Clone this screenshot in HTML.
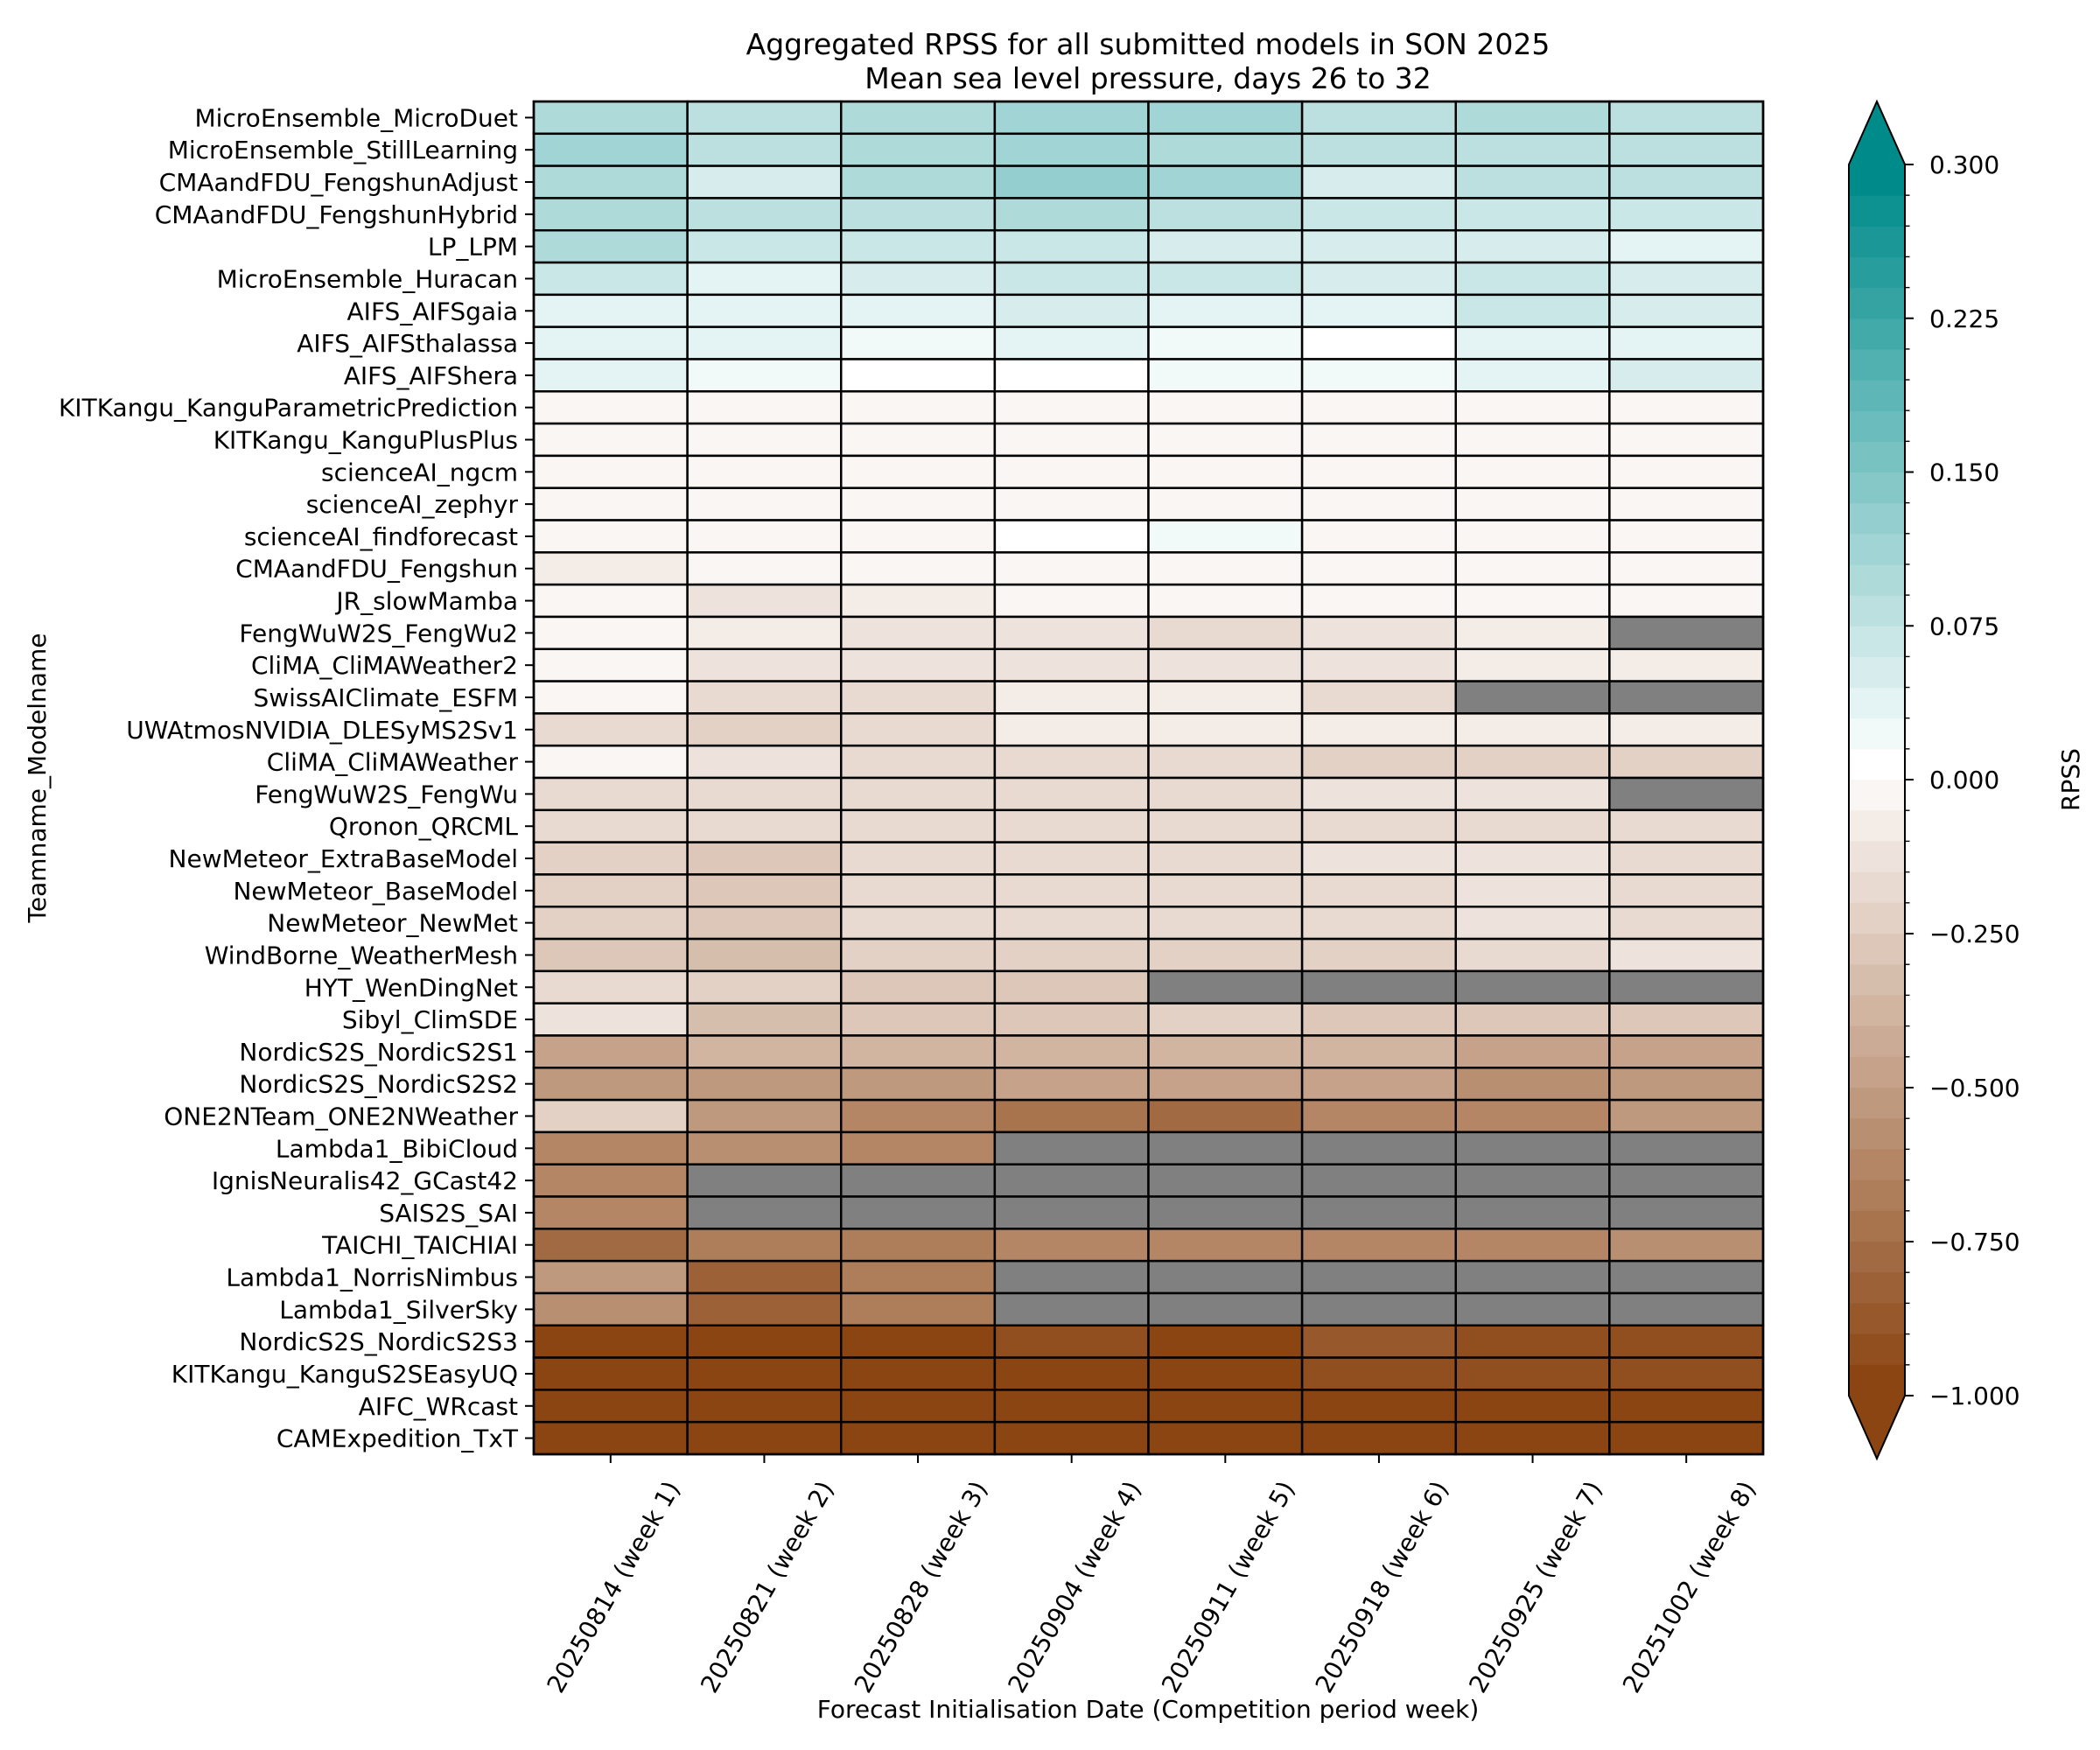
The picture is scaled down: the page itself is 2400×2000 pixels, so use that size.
<!DOCTYPE html>
<html><head><meta charset="utf-8">
<style>
html,body{margin:0;padding:0;background:#fff;}
svg{display:block;font-family:"DejaVu Sans","Liberation Sans",sans-serif;}
</style></head>
<body>
<svg id="s" width="2400" height="2000" viewBox="0 0 2400 2000" xmlns="http://www.w3.org/2000/svg">
<rect width="2400" height="2000" fill="#fff"/>
<text x="1312" y="62" font-size="33" text-anchor="middle">Aggregated RPSS for all submitted models in SON 2025</text>
<text x="1312" y="101" font-size="33" text-anchor="middle">Mean sea level pressure, days 26 to 32</text>
<g id="cells"></g>
<g id="ylab" font-size="28" text-anchor="end">
<text>MicroEnsemble_MicroDuet</text><text>MicroEnsemble_StillLearning</text><text>CMAandFDU_FengshunAdjust</text><text>CMAandFDU_FengshunHybrid</text><text>LP_LPM</text><text>MicroEnsemble_Huracan</text><text>AIFS_AIFSgaia</text><text>AIFS_AIFSthalassa</text><text>AIFS_AIFShera</text><text>KITKangu_KanguParametricPrediction</text><text>KITKangu_KanguPlusPlus</text><text>scienceAI_ngcm</text><text>scienceAI_zephyr</text><text>scienceAI_findforecast</text><text>CMAandFDU_Fengshun</text><text>JR_slowMamba</text><text>FengWuW2S_FengWu2</text><text>CliMA_CliMAWeather2</text><text>SwissAIClimate_ESFM</text><text>UWAtmosNVIDIA_DLESyMS2Sv1</text><text>CliMA_CliMAWeather</text><text>FengWuW2S_FengWu</text><text>Qronon_QRCML</text><text>NewMeteor_ExtraBaseModel</text><text>NewMeteor_BaseModel</text><text>NewMeteor_NewMet</text><text>WindBorne_WeatherMesh</text><text>HYT_WenDingNet</text><text>Sibyl_ClimSDE</text><text>NordicS2S_NordicS2S1</text><text>NordicS2S_NordicS2S2</text><text>ONE2NTeam_ONE2NWeather</text><text>Lambda1_BibiCloud</text><text>IgnisNeuralis42_GCast42</text><text>SAIS2S_SAI</text><text>TAICHI_TAICHIAI</text><text>Lambda1_NorrisNimbus</text><text>Lambda1_SilverSky</text><text>NordicS2S_NordicS2S3</text><text>KITKangu_KanguS2SEasyUQ</text><text>AIFC_WRcast</text><text>CAMExpedition_TxT</text>
</g>
<g id="xlab" font-size="28" text-anchor="end">
<text>20250814 (week 1)</text><text>20250821 (week 2)</text><text>20250828 (week 3)</text><text>20250904 (week 4)</text><text>20250911 (week 5)</text><text>20250918 (week 6)</text><text>20250925 (week 7)</text><text>20251002 (week 8)</text>
</g>
<text x="1312" y="1963" font-size="28" text-anchor="middle">Forecast Initialisation Date (Competition period week)</text>
<text transform="translate(52,889) rotate(-90)" font-size="28" text-anchor="middle">Teamname_Modelname</text>
<g id="cbar"></g>
<g id="cbl" font-size="28">
<text>0.300</text><text>0.225</text><text>0.150</text><text>0.075</text><text>0.000</text><text>−0.250</text><text>−0.500</text><text>−0.750</text><text>−1.000</text>
</g>
<text transform="translate(2376,891) rotate(-90)" font-size="28" text-anchor="middle">RPSS</text>
</svg>
<script>
(function(){
var NS="http://www.w3.org/2000/svg";
function el(p,t,a){var e=document.createElementNS(NS,t);for(var k in a)e.setAttribute(k,a[k]);p.appendChild(e);return e;}
var N=null;
var D=[
[0.09,0.075,0.09,0.11,0.11,0.075,0.09,0.075],
[0.11,0.075,0.09,0.11,0.09,0.075,0.075,0.075],
[0.09,0.045,0.09,0.125,0.11,0.045,0.075,0.075],
[0.09,0.075,0.075,0.09,0.075,0.06,0.06,0.06],
[0.09,0.06,0.06,0.06,0.045,0.045,0.045,0.03],
[0.06,0.03,0.045,0.06,0.06,0.045,0.06,0.045],
[0.03,0.03,0.03,0.045,0.03,0.03,0.06,0.045],
[0.03,0.03,0.015,0.03,0.015,0.005,0.03,0.03],
[0.03,0.015,0.005,0.005,0.015,0.015,0.03,0.045],
[-0.02,-0.02,-0.02,-0.02,-0.02,-0.02,-0.02,-0.02],
[-0.02,-0.02,-0.02,-0.02,-0.02,-0.02,-0.02,-0.02],
[-0.02,-0.02,-0.02,-0.02,-0.02,-0.02,-0.02,-0.02],
[-0.02,-0.02,-0.02,-0.02,-0.02,-0.02,-0.02,-0.02],
[-0.02,-0.02,-0.02,0.005,0.015,-0.02,-0.02,-0.02],
[-0.07,-0.02,-0.02,-0.02,-0.02,-0.02,-0.02,-0.02],
[-0.02,-0.12,-0.07,-0.02,-0.02,-0.02,-0.02,-0.02],
[-0.02,-0.07,-0.12,-0.12,-0.17,-0.12,-0.07,N],
[-0.02,-0.12,-0.12,-0.12,-0.12,-0.12,-0.07,-0.07],
[-0.02,-0.17,-0.17,-0.07,-0.07,-0.17,N,N],
[-0.17,-0.22,-0.17,-0.07,-0.07,-0.07,-0.07,-0.07],
[-0.02,-0.12,-0.17,-0.17,-0.17,-0.22,-0.22,-0.22],
[-0.17,-0.17,-0.17,-0.17,-0.17,-0.12,-0.12,N],
[-0.17,-0.17,-0.17,-0.17,-0.17,-0.17,-0.17,-0.17],
[-0.22,-0.27,-0.17,-0.17,-0.17,-0.12,-0.12,-0.17],
[-0.22,-0.27,-0.17,-0.17,-0.17,-0.17,-0.12,-0.17],
[-0.22,-0.27,-0.17,-0.17,-0.17,-0.17,-0.12,-0.17],
[-0.27,-0.32,-0.22,-0.22,-0.22,-0.22,-0.17,-0.12],
[-0.17,-0.22,-0.27,-0.27,N,N,N,N],
[-0.12,-0.32,-0.27,-0.27,-0.22,-0.27,-0.27,-0.27],
[-0.47,-0.37,-0.37,-0.37,-0.37,-0.37,-0.47,-0.47],
[-0.52,-0.52,-0.52,-0.47,-0.47,-0.47,-0.57,-0.52],
[-0.22,-0.52,-0.62,-0.72,-0.77,-0.62,-0.62,-0.52],
[-0.62,-0.57,-0.62,N,N,N,N,N],
[-0.62,N,N,N,N,N,N,N],
[-0.62,N,N,N,N,N,N,N],
[-0.77,-0.67,-0.67,-0.62,-0.62,-0.62,-0.62,-0.57],
[-0.52,-0.82,-0.67,N,N,N,N,N],
[-0.57,-0.82,-0.67,N,N,N,N,N],
[-0.97,-0.97,-0.97,-0.92,-0.97,-0.87,-0.92,-0.92],
[-0.97,-0.97,-0.97,-0.97,-0.97,-0.92,-0.92,-0.92],
[-0.97,-0.97,-0.97,-0.97,-0.97,-0.97,-0.97,-0.97],
[-0.97,-0.97,-0.97,-0.97,-0.97,-0.97,-0.97,-0.97]];
function rgb(r,g,b){return "rgb("+Math.round(r)+","+Math.round(g)+","+Math.round(b)+")";}
function posc(k){var t=k/19;return rgb(255-255*t,255-116*t,255-116*t);}
function negc(k){var t=(k+1)/20;return rgb(255-116*t,255-186*t,255-236*t);}
function col(v){
 if(v===null)return "#808080";
 if(v>=0){return posc(Math.min(19,Math.floor(v/0.015+1e-9)));}
 return negc(Math.min(19,Math.floor(-v/0.05+1e-9)));
}
var X0=610,X1=2015,Y0=116,Y1=1662,nr=42,nc=8;
var cw=(X1-X0)/nc,rh=(Y1-Y0)/nr;
var g=document.getElementById("cells");
for(var i=0;i<nr;i++)for(var j=0;j<nc;j++){
 el(g,"rect",{x:X0+j*cw,y:Y0+i*rh,width:cw,height:rh,fill:col(D[i][j]),stroke:"#000","stroke-width":2.5});
}
el(g,"rect",{x:X0,y:Y0,width:X1-X0,height:Y1-Y0,fill:"none",stroke:"#000","stroke-width":2.5});
var yl=document.getElementById("ylab").children;
for(var i=0;i<nr;i++){
 var yc=Y0+(i+0.5)*rh;
 yl[i].setAttribute("x",592);yl[i].setAttribute("y",yc+10);
 el(g,"line",{x1:X0-10,x2:X0,y1:yc,y2:yc,stroke:"#000","stroke-width":2});
}
var xl=document.getElementById("xlab").children;
for(var j=0;j<nc;j++){
 var xc=X0+(j+0.5)*cw;
 el(g,"line",{x1:xc,x2:xc,y1:Y1,y2:Y1+10,stroke:"#000","stroke-width":2});
 xl[j].setAttribute("transform","translate("+(xc+80)+",1700) rotate(-60)");
}
var cb=document.getElementById("cbar");
var BX0=2113,BX1=2177,BT=188,BZ=891,BB=1595,tip=72;
var bp=(BZ-BT)/20,bn=(BB-BZ)/20;
for(var k=0;k<20;k++){
 el(cb,"rect",{x:BX0,y:BZ-(k+1)*bp,width:BX1-BX0,height:bp+0.6,fill:posc(k)});
 el(cb,"rect",{x:BX0,y:BZ+k*bn,width:BX1-BX0,height:bn+0.6,fill:negc(k)});
}
var mx=(BX0+BX1)/2;
el(cb,"polygon",{points:BX0+","+BT+" "+mx+","+(BT-tip)+" "+BX1+","+BT,fill:posc(19)});
el(cb,"polygon",{points:BX0+","+BB+" "+mx+","+(BB+tip)+" "+BX1+","+BB,fill:negc(19)});
el(cb,"polygon",{points:BX0+","+BT+" "+mx+","+(BT-tip)+" "+BX1+","+BT+" "+BX1+","+BB+" "+mx+","+(BB+tip)+" "+BX0+","+BB,fill:"none",stroke:"#000","stroke-width":2});
for(var k=0;k<=20;k++){
 var y1=BZ-k*bp,y2=BZ+k*bn,maj=(k%5==0);
 el(cb,"line",{x1:BX1,x2:BX1+(maj?10:5.5),y1:y1,y2:y1,stroke:"#000","stroke-width":maj?2:1.4});
 el(cb,"line",{x1:BX1,x2:BX1+(maj?10:5.5),y1:y2,y2:y2,stroke:"#000","stroke-width":maj?2:1.4});
}
var ly=[BT,BT+5*bp,BT+10*bp,BT+15*bp,BZ,BZ+5*bn,BZ+10*bn,BZ+15*bn,BB];
var cl=document.getElementById("cbl").children;
for(var i=0;i<9;i++){cl[i].setAttribute("x",2205);cl[i].setAttribute("y",ly[i]+10);}
})();
</script>
</body></html>
